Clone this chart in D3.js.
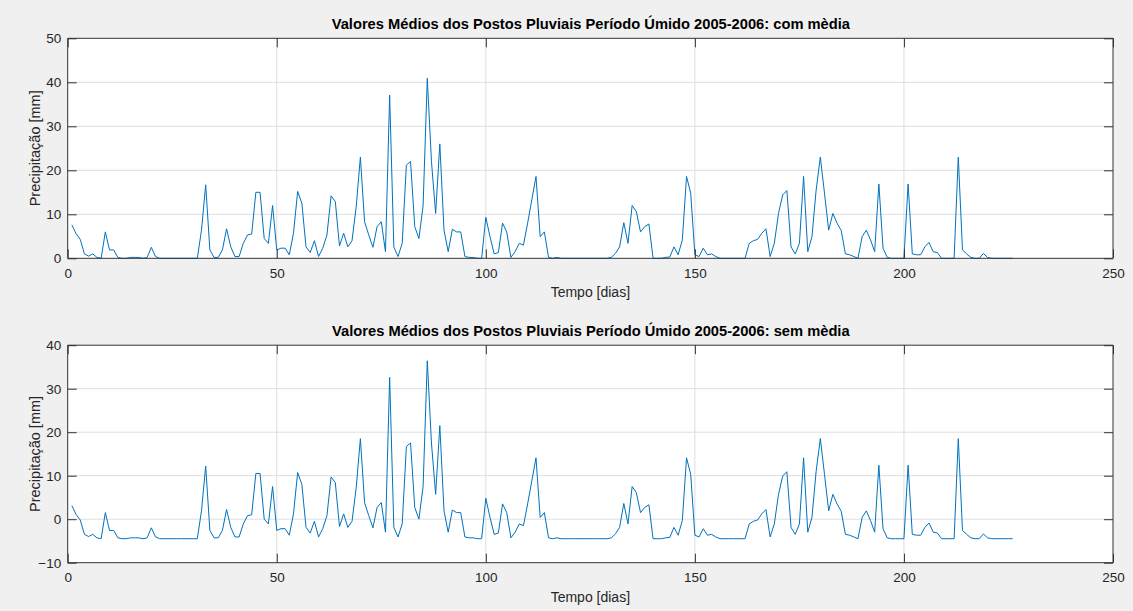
<!DOCTYPE html>
<html>
<head>
<meta charset="utf-8">
<script src="https://cdn.jsdelivr.net/npm/d3@7"></script>
<style>
  html, body { margin: 0; padding: 0; background: #f0f0f0; }
  svg { display: block; font-family: "Liberation Sans", Arial, Helvetica, sans-serif; }
</style>
</head>
<body>
<svg id="fig" width="1133" height="611"></svg>
<script>
// Daily mean precipitation (mm) of the rain gauges, wet season 2005-2006, days 1..226
const precipitacao = [
  7.6, 5.6, 4.3, 1.0, 0.5, 1.0, 0.2, 0.0, 6.0, 1.9,
  1.9, 0.2, 0.0, 0.0, 0.2, 0.2, 0.2, 0.0, 0.2, 2.5,
  0.4, 0.0, 0.0, 0.0, 0.0, 0.0, 0.0, 0.0, 0.0, 0.0,
  0.0, 6.4, 16.7, 1.9, 0.2, 0.2, 1.9, 6.7, 2.6, 0.4,
  0.4, 3.4, 5.3, 5.5, 15.0, 15.0, 4.5, 3.4, 12.0, 1.9,
  2.3, 2.3, 0.8, 5.7, 15.2, 12.5, 2.6, 1.3, 4.0, 0.4,
  2.3, 5.3, 14.2, 12.9, 2.8, 5.7, 2.6, 4.0, 11.7, 23.0,
  8.3, 5.3, 2.5, 7.2, 8.3, 1.5, 37.1, 2.6, 0.4, 3.4,
  21.2, 22.0, 7.2, 4.5, 12.0, 40.9, 22.0, 10.2, 26.0, 6.4,
  1.5, 6.6, 6.0, 6.0, 0.4, 0.2, 0.2, 0.0, 0.0, 9.3,
  4.9, 1.0, 1.3, 8.0, 6.0, 0.2, 1.5, 3.4, 3.0, 8.0,
  13.3, 18.6, 4.9, 6.0, 0.2, 0.0, 0.2, 0.0, 0.0, 0.0,
  0.0, 0.0, 0.0, 0.0, 0.0, 0.0, 0.0, 0.0, 0.0, 0.2,
  1.1, 2.6, 8.1, 3.4, 12.0, 10.6, 6.0, 7.2, 7.8, 0.0,
  0.0, 0.0, 0.2, 0.3, 2.6, 0.8, 4.2, 18.6, 14.8, 0.8,
  0.4, 2.3, 0.8, 1.0, 0.4, 0.0, 0.0, 0.0, 0.0, 0.0,
  0.0, 0.0, 3.4, 4.0, 4.3, 5.7, 6.7, 0.4, 3.4, 10.2,
  14.4, 15.4, 2.6, 1.0, 3.4, 18.6, 1.5, 4.9, 15.5, 23.0,
  14.8, 6.4, 10.2, 8.0, 6.3, 1.0, 0.8, 0.4, 0.0, 4.9,
  6.4, 4.2, 1.5, 16.9, 2.3, 0.2, 0.0, 0.0, 0.0, 0.0,
  16.9, 1.0, 0.8, 0.8, 2.6, 3.6, 1.5, 1.3, 0.0, 0.0,
  0.0, 0.0, 23.0, 1.9, 1.0, 0.2, 0.0, 0.0, 1.1, 0.2,
  0.0, 0.0, 0.0, 0.0, 0.0, 0.0
];
const dias = precipitacao.map((_, i) => i + 1);

// Series with the period mean removed
const mediaPeriodo = d3.mean(precipitacao);
const semMedia = precipitacao.map(v => v - mediaPeriodo);

const xTicks = [0, 50, 100, 150, 200, 250];
const yTicksCom = [0, 10, 20, 30, 40, 50];
const yTicksSem = [-10, 0, 10, 20, 30, 40];

const titulos = [
  "Valores Médios dos Postos Pluviais Período Úmido 2005-2006: com mèdia",
  "Valores Médios dos Postos Pluviais Período Úmido 2005-2006: sem mèdia"
];
const xLabel = "Tempo [dias]";
const yLabel = "Precipitação [mm]";

const svg = d3.select("#fig");
const left = 67.7, right = 1113;
const fonte = "'Liberation Sans', Arial, sans-serif";

function painel(serie, yDomain, yTicks, top, bottom, titulo) {
  const x = d3.scaleLinear().domain([0, 250]).range([left, right]);
  const y = d3.scaleLinear().domain(yDomain).range([bottom, top]);
  const g = svg.append("g");

  g.append("rect")
    .attr("x", left).attr("y", top)
    .attr("width", right - left).attr("height", bottom - top)
    .attr("fill", "#ffffff");

  // grid
  g.append("g").selectAll("line").data(xTicks.slice(1, -1)).join("line")
    .attr("x1", d => x(d)).attr("x2", d => x(d))
    .attr("y1", top).attr("y2", bottom)
    .attr("stroke", "#dedede").attr("stroke-width", 1);
  g.append("g").selectAll("line").data(yTicks.slice(1, -1)).join("line")
    .attr("y1", d => y(d)).attr("y2", d => y(d))
    .attr("x1", left).attr("x2", right)
    .attr("stroke", "#dedede").attr("stroke-width", 1);

  // data line
  const linha = d3.line().x((d, i) => x(dias[i])).y(d => y(d));
  g.append("path").datum(serie)
    .attr("d", linha)
    .attr("fill", "none")
    .attr("stroke", "#0072BD")
    .attr("stroke-width", 1)
    .attr("stroke-linejoin", "round");

  // axes with inward ticks on every side
  const tk = 9;
  const axB = d3.axisBottom(x).tickValues(xTicks).tickSize(-tk).tickPadding(10).tickFormat(d3.format("d"));
  const axT = d3.axisTop(x).tickValues(xTicks).tickSize(-tk).tickFormat("");
  const axL = d3.axisLeft(y).tickValues(yTicks).tickSize(-tk).tickPadding(6.5).tickFormat(d3.format("d"));
  const axR = d3.axisRight(y).tickValues(yTicks).tickSize(-tk).tickFormat("");

  const style = sel => {
    sel.select(".domain").attr("stroke", "#333").attr("stroke-width", 1);
    sel.selectAll(".tick line").attr("stroke", "#333").attr("stroke-width", 1);
    sel.selectAll(".tick text").attr("fill", "#262626").attr("font-size", 13.5)
      .attr("font-family", fonte);
  };
  g.append("g").attr("transform", `translate(0,${bottom})`).call(axB).call(style)
    .selectAll(".domain").attr("d", `M${left},0H${right}`);
  g.append("g").attr("transform", `translate(0,${top})`).call(axT).call(style)
    .selectAll(".domain").attr("d", `M${left},0H${right}`);
  g.append("g").attr("transform", `translate(${left},0)`).call(axL).call(style)
    .selectAll(".domain").attr("d", `M0,${top}V${bottom}`);
  g.append("g").attr("transform", `translate(${right},0)`).call(axR).call(style)
    .selectAll(".domain").attr("d", `M0,${top}V${bottom}`);

  // title and labels
  g.append("text")
    .attr("x", (left + right) / 2 + 0.5).attr("y", top - 9)
    .attr("text-anchor", "middle")
    .attr("font-size", 14.7).attr("font-weight", "bold").attr("fill", "#000")
    .text(titulo);
  g.append("text")
    .attr("x", (left + right) / 2).attr("y", bottom + 39)
    .attr("text-anchor", "middle")
    .attr("font-size", 14).attr("fill", "#262626")
    .text(xLabel);
  g.append("text")
    .attr("transform", `translate(${left - 28},${(top + bottom) / 2}) rotate(-90)`)
    .attr("text-anchor", "middle")
    .attr("font-size", 14.5).attr("fill", "#262626")
    .text(yLabel);
}

painel(precipitacao, [0, 50], yTicksCom, 38.3, 258.3, titulos[0]);
painel(semMedia, [-10, 40], yTicksSem, 345.2, 562.7, titulos[1]);
</script>
</body>
</html>
